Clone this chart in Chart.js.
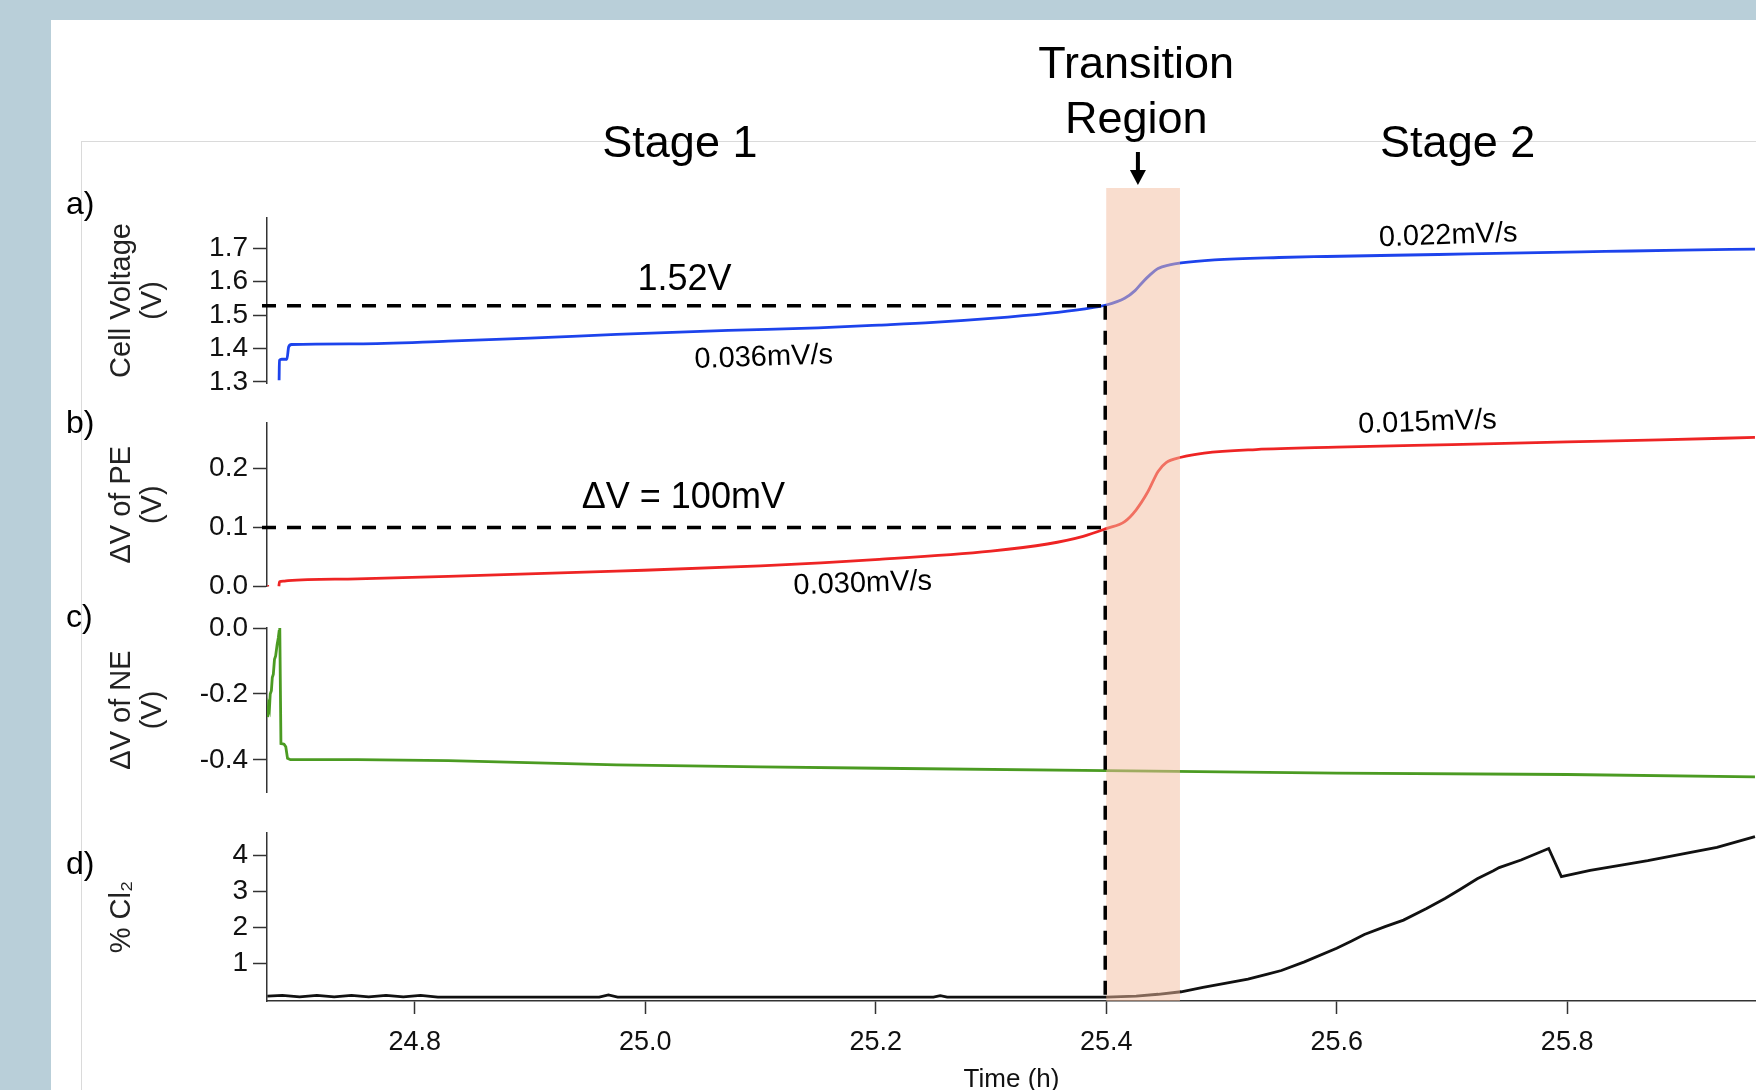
<!DOCTYPE html>
<html>
<head>
<meta charset="utf-8">
<title>Cell voltage transition</title>
<script src="https://cdn.jsdelivr.net/npm/chart.js@4.4.1/dist/chart.umd.min.js"></script>
<style>
  html, body { margin: 0; padding: 0; width: 1756px; height: 1090px; overflow: hidden; background: #b9cfd9; }
  #sheet { position: absolute; left: 51px; top: 20px; width: 1705px; height: 1070px; background: #fff; }
  #frame { position: absolute; left: 81px; top: 141px; width: 1720px; height: 1000px; border: 1px solid #dadada; }
  #plot { position: absolute; left: 0; top: 0; }
</style>
</head>
<body>
<div id="sheet"></div>
<div id="frame"></div>
<canvas id="plot" width="1756" height="1100"></canvas>
<script>
// ---- data ----
const ticksX = [24.8, 25.0, 25.2, 25.4, 25.6, 25.8];
const ticksA = [1.3, 1.4, 1.5, 1.6, 1.7];
const ticksB = [0.0, 0.1, 0.2];
const ticksC = [-0.4, -0.2, 0.0];
const ticksD = [1, 2, 3, 4];

// a) cell voltage (V)
const timeA = [24.6822, 24.6825, 24.6845, 24.6890, 24.6905, 24.6930, 24.750, 24.829, 24.900, 24.975, 25.072, 25.150, 25.203, 25.250, 25.300, 25.349, 25.380, 25.400, 25.416, 25.425, 25.431, 25.438, 25.445, 25.455, 25.465, 25.494, 25.550, 25.591, 25.688, 25.750, 25.833, 25.900, 25.963];
const cellVoltage = [1.305, 1.365, 1.368, 1.368, 1.405, 1.412, 1.414, 1.422, 1.431, 1.442, 1.454, 1.462, 1.470, 1.478, 1.490, 1.505, 1.518, 1.530, 1.550, 1.573, 1.596, 1.620, 1.639, 1.650, 1.656, 1.665, 1.672, 1.675, 1.681, 1.685, 1.690, 1.694, 1.697];

// b) delta V of positive electrode (V)
const timeB = [24.6720, 24.6735, 24.6750, 24.6820, 24.6825, 24.6860, 24.690, 24.750, 24.829, 24.975, 25.100, 25.203, 25.300, 25.349, 25.380, 25.400, 25.416, 25.426, 25.436, 25.445, 25.452, 25.465, 25.485, 25.530, 25.600, 25.700, 25.800, 25.880, 25.963];
const dvPE = [0.000, 0.000, null, 0.000, 0.008, 0.009, 0.010, 0.013, 0.017, 0.026, 0.035, 0.046, 0.060, 0.072, 0.085, 0.098, 0.110, 0.130, 0.160, 0.195, 0.210, 0.219, 0.226, 0.232, 0.236, 0.2405, 0.245, 0.2485, 0.2525];

// c) delta V of negative electrode (V)
const timeC = [24.6723, 24.6730, 24.6738, 24.6745, 24.6755, 24.6763, 24.6772, 24.6782, 24.6792, 24.6805, 24.6815, 24.6822, 24.6828, 24.6838, 24.6865, 24.6880, 24.6895, 24.6920, 24.750, 24.829, 24.975, 25.100, 25.203, 25.400, 25.600, 25.800, 25.963];
const dvNE = [-0.270, -0.235, -0.245, -0.200, -0.190, -0.150, -0.140, -0.095, -0.085, -0.050, -0.030, -0.010, 0.000, -0.350, -0.352, -0.360, -0.395, -0.399, -0.399, -0.402, -0.415, -0.421, -0.425, -0.432, -0.440, -0.444, -0.451];

// d) chlorine content (%)
const timeD = [24.672, 24.685, 24.700, 24.715, 24.730, 24.745, 24.760, 24.775, 24.790, 24.805, 24.820, 24.960, 24.968, 24.976, 25.250, 25.256, 25.262, 25.400, 25.426, 25.445, 25.465, 25.484, 25.503, 25.523, 25.540, 25.552, 25.572, 25.600, 25.613, 25.624, 25.642, 25.658, 25.678, 25.694, 25.707, 25.722, 25.736, 25.741, 25.760, 25.784, 25.795, 25.820, 25.847, 25.870, 25.905, 25.930, 25.963];
const cl2 = [0.09, 0.11, 0.07, 0.11, 0.07, 0.11, 0.07, 0.11, 0.07, 0.11, 0.06, 0.06, 0.12, 0.06, 0.06, 0.10, 0.06, 0.06, 0.09, 0.14, 0.21, 0.33, 0.44, 0.56, 0.70, 0.80, 1.04, 1.42, 1.62, 1.80, 2.02, 2.20, 2.52, 2.80, 3.05, 3.35, 3.57, 3.66, 3.87, 4.19, 3.41, 3.58, 3.73, 3.85, 4.07, 4.22, 4.52];

const transitionStart = 25.400;
const transitionEnd = 25.464;
const cellCutoff = 1.528;
const peCutoff = 0.100;

const FONT = '"Liberation Sans", Arial, Helvetica, sans-serif';
const pts = (xs, ys) => xs.map((t, i) => ({ x: t, y: ys[i] }));

// one canvas, four y axes stacked on the left; hidden axes make the gaps
const yAxis = (ticks, min, max, weight, stackWeight, title, fmt) => ({
    type: 'linear', position: 'left', stack: 'panels', stackWeight, weight, min, max,
    afterBuildTicks: s => { s.ticks = ticks.map(v => ({ value: v })); },
    afterFit: s => { s.width = 267; },
    border: { display: true, color: '#333', width: 1.5 },
    grid: { drawOnChartArea: false, drawTicks: true, tickLength: 14, tickColor: '#333', tickWidth: 1.5 },
    ticks: { color: '#111', padding: 5, autoSkip: false, font: { family: FONT, size: 28 }, callback: fmt },
    title: { display: true, text: title, color: '#222', padding: { top: 106, bottom: 0 }, font: { family: FONT, size: 29, lineHeight: 1.07 } }
});
const gapAxis = (weight, stackWeight) => ({ type: 'linear', position: 'left', stack: 'panels', stackWeight, weight, min: 0, max: 1, display: false });

const annotations = {
    id: 'annotations',
    afterDatasetsDraw(chart) {
        const { ctx, chartArea, scales } = chart;
        const x0 = scales.x.getPixelForValue(transitionStart);
        const x1 = scales.x.getPixelForValue(transitionEnd);
        const yCut = scales.yA.getPixelForValue(cellCutoff);
        const yPe = scales.yB.getPixelForValue(peCutoff);
        ctx.save();
        ctx.fillStyle = 'rgba(244, 188, 158, 0.5)';
        ctx.fillRect(x0, chartArea.top - 30, x1 - x0, chartArea.bottom - chartArea.top + 30);

        ctx.strokeStyle = '#000';
        ctx.lineWidth = 3.5;
        ctx.setLineDash([14, 11]);
        ctx.beginPath(); ctx.moveTo(chartArea.left - 5, yCut); ctx.lineTo(x0, yCut); ctx.stroke();
        ctx.beginPath(); ctx.moveTo(chartArea.left - 5, yPe); ctx.lineTo(x0, yPe); ctx.stroke();
        ctx.beginPath(); ctx.moveTo(x0 - 1, yCut); ctx.lineTo(x0 - 1, chartArea.bottom); ctx.stroke();
        ctx.restore();
    },
    afterDraw(chart) {
        const { ctx, chartArea, scales } = chart;
        const X = v => scales.x.getPixelForValue(v);
        const text = (str, x, y, size, rot, align) => {
            ctx.save();
            ctx.translate(x, y);
            if (rot) ctx.rotate(rot);
            ctx.font = size + 'px ' + FONT;
            ctx.fillStyle = '#000';
            ctx.textAlign = align || 'center';
            ctx.textBaseline = 'alphabetic';
            ctx.fillText(str, 0, 0);
            ctx.restore();
        };
        const top = chartArea.top;
        text('Stage 1', X(25.030), top - 61, 45);
        text('Stage 2', X(25.705), top - 61, 45);
        text('Transition', X(25.426), top - 140, 45);
        text('Region', X(25.426), top - 85, 45);

        // arrow into the transition band
        const ax = X(25.4275);
        ctx.save();
        ctx.strokeStyle = '#000';
        ctx.fillStyle = '#000';
        ctx.lineWidth = 4;
        ctx.beginPath(); ctx.moveTo(ax, top - 66); ctx.lineTo(ax, top - 46); ctx.stroke();
        ctx.beginPath(); ctx.moveTo(ax - 8, top - 48); ctx.lineTo(ax + 8, top - 48); ctx.lineTo(ax, top - 33); ctx.closePath(); ctx.fill();
        ctx.restore();

        const tilt = -0.035;
        text('1.52V', X(25.034), scales.yA.getPixelForValue(1.576), 36);
        text('0.036mV/s', X(25.103), scales.yA.getPixelForValue(1.349), 29, tilt);
        text('0.022mV/s', X(25.697), scales.yA.getPixelForValue(1.713), 29, tilt);
        text('\u0394V = 100mV', X(25.033), scales.yB.getPixelForValue(0.133), 36);
        text('0.030mV/s', X(25.189), scales.yB.getPixelForValue(-0.009), 29, tilt);
        text('0.015mV/s', X(25.679), scales.yB.getPixelForValue(0.264), 29, tilt);

        text('a)', 66, 214, 32, 0, 'left');
        text('b)', 66, 433, 32, 0, 'left');
        text('c)', 66, 627, 32, 0, 'left');
        text('d)', 66, 874, 32, 0, 'left');
    }
};

const series = (data, color, axis, smooth) => ({
    data, yAxisID: axis, borderColor: color, borderWidth: 2.8, pointRadius: 0,
    fill: false, spanGaps: false, tension: 0, cubicInterpolationMode: smooth ? 'monotone' : 'default'
});

new Chart(document.getElementById('plot'), {
    type: 'line',
    data: {
        datasets: [
            series(pts(timeA, cellVoltage), '#1d43ec', 'yA', true),
            series(pts(timeB, dvPE), '#ee2424', 'yB', true),
            series(pts(timeC, dvNE), '#4b9b22', 'yC', false),
            series(pts(timeD, cl2), '#111111', 'yD', false)
        ]
    },
    options: {
        responsive: false,
        animation: false,
        parsing: true,
        layout: { padding: { top: 218, left: 0, right: 0, bottom: 0 } },
        plugins: { legend: { display: false }, tooltip: { enabled: false } },
        scales: {
            x: {
                type: 'linear', position: 'bottom', min: 24.6717, max: 25.9639,
                afterBuildTicks: s => { s.ticks = ticksX.map(v => ({ value: v })); },
                afterFit: s => { s.height = 99; },
                border: { display: true, color: '#333', width: 1.5 },
                grid: { drawOnChartArea: false, drawTicks: true, tickLength: 13, tickColor: '#333', tickWidth: 1.5 },
                ticks: { color: '#111', padding: 12, maxRotation: 0, autoSkip: false, font: { family: FONT, size: 27 }, callback: v => v.toFixed(1) },
                title: { display: true, text: 'Time (h)', color: '#111', padding: { top: 0, bottom: 5 }, font: { family: FONT, size: 26 } }
            },
            yA: yAxis(ticksA, 1.297, 1.790, 7, 165, ['Cell Voltage', '(V)'], v => v.toFixed(1)),
            g1: gapAxis(6, 40),
            yB: yAxis(ticksB, 0.0, 0.277, 5, 163.5, ['\u0394V of PE', '(V)'], v => v.toFixed(1)),
            g2: gapAxis(4, 41.5),
            yC: yAxis(ticksC, -0.497, 0.0, 3, 164, ['\u0394V of NE', '(V)'], v => v.toFixed(1)),
            g3: gapAxis(2, 41),
            yD: yAxis(ticksD, -0.047, 4.62, 1, 168, '% Cl\u2082', v => String(v))
        }
    },
    plugins: [annotations]
});
</script>
</body>
</html>
